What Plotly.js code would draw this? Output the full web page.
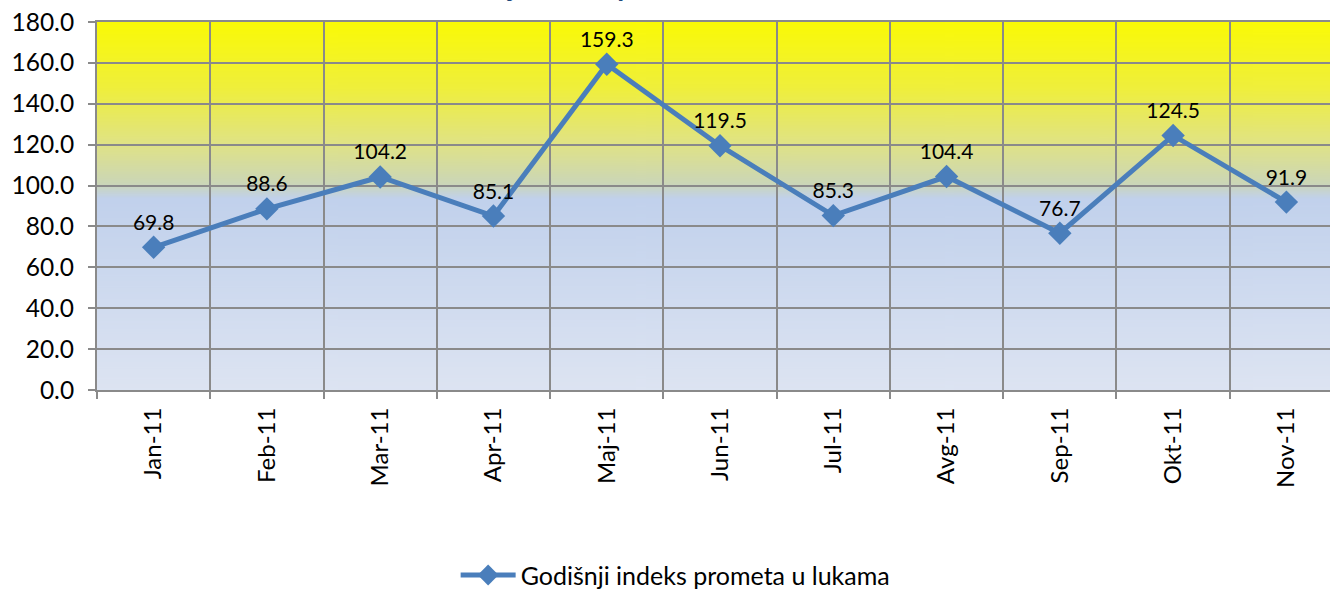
<!DOCTYPE html>
<html>
<head>
<meta charset="utf-8">
<script src="https://cdn.plot.ly/plotly-3.0.1.min.js"></script>
<style>html,body{margin:0;padding:0;background:#fff;}#chart{width:1330px;height:590px;}</style>
</head>
<body>
<div id="chart"></div>
<script>
const chartTitle = "Godišnji indeks prometa u lukama";
const seriesName = "Godišnji indeks prometa u lukama";
const months = ["Jan-11","Feb-11","Mar-11","Apr-11","Maj-11","Jun-11","Jul-11","Avg-11","Sep-11","Okt-11","Nov-11"];
const values = [69.8, 88.6, 104.2, 85.1, 159.3, 119.5, 85.3, 104.4, 76.7, 124.5, 91.9];
const yTicks = [0, 20, 40, 60, 80, 100, 120, 140, 160, 180];

// background gradient for the plot area
const cv = document.createElement('canvas');
cv.width = 8; cv.height = 400;
const ctx = cv.getContext('2d');
const g = ctx.createLinearGradient(0, 0, 0, 400);
g.addColorStop(0.00, '#FAFA06');
g.addColorStop(0.18, '#EFEF3C');
g.addColorStop(0.33, '#E0E385');
g.addColorStop(0.44, '#CBD6B8');
g.addColorStop(0.48, '#C1D1EC');
g.addColorStop(1.00, '#DDE4F2');
ctx.fillStyle = g;
ctx.fillRect(0, 0, 8, 400);
const bgURL = cv.toDataURL('image/png');

const FONT = 'Lato, "Open Sans", sans-serif';
const GRID = '#8A8A8A';
const trace = {
  type: 'scatter',
  mode: 'lines+markers+text',
  x: months,
  y: values,
  name: seriesName,
  text: values.map(v => v.toFixed(1)),
  textposition: 'top center',
  textfont: {family: FONT, size: 21, color: '#000'},
  line: {color: '#4A7EBB', width: 5},
  marker: {symbol: 'diamond', size: 18, color: '#4A7EBB'},
  cliponaxis: false
};

const layout = {
  width: 1330, height: 590,
  margin: {l: 97, r: 0, t: 22, b: 200},
  paper_bgcolor: '#fff',
  plot_bgcolor: 'rgba(0,0,0,0)',
  showlegend: true,
  legend: {
    orientation: 'h', xref: 'container', yref: 'container',
    x: 0.508, xanchor: 'center', y: 0.025, yanchor: 'middle',
    font: {family: FONT, size: 25, color: '#000'},
    itemwidth: 55
  },
  xaxis: {
    type: 'category',
    range: [-0.5, 10.385],
    tickson: 'boundaries',
    ticks: 'outside', ticklen: 7, tickcolor: GRID, tickwidth: 2,
    showgrid: true, gridcolor: GRID, gridwidth: 2,
    showline: true, linecolor: GRID, linewidth: 2, mirror: true,
    tickangle: -90,
    tickfont: {family: FONT, size: 24, color: '#000'},
    ticklabelstandoff: 6,
    zeroline: false,
    fixedrange: true
  },
  yaxis: {
    range: [0, 180],
    tickvals: yTicks,
    ticktext: yTicks.map(v => v.toFixed(1)),
    ticks: 'outside', ticklen: 7, tickcolor: GRID, tickwidth: 2,
    showgrid: true, gridcolor: GRID, gridwidth: 2,
    showline: true, linecolor: GRID, linewidth: 2,
    tickfont: {family: FONT, size: 24.5, color: '#000'},
    zeroline: false,
    ticklabelstandoff: 9
  },
  images: [{
    source: bgURL, xref: 'paper', yref: 'paper',
    x: 0, y: 1, sizex: 1, sizey: 1, sizing: 'stretch',
    xanchor: 'left', yanchor: 'top', layer: 'below'
  }],
  annotations: [{
    text: '<b>' + chartTitle + '</b>',
    xref: 'paper', yref: 'paper', x: 0.433, y: 1,
    xanchor: 'center', yanchor: 'bottom', yshift: 18,
    showarrow: false,
    font: {family: FONT, size: 28, color: '#1F497D'}
  }]
};

Plotly.newPlot('chart', [trace], layout, {displayModeBar: false, staticPlot: true});
</script>
</body>
</html>
